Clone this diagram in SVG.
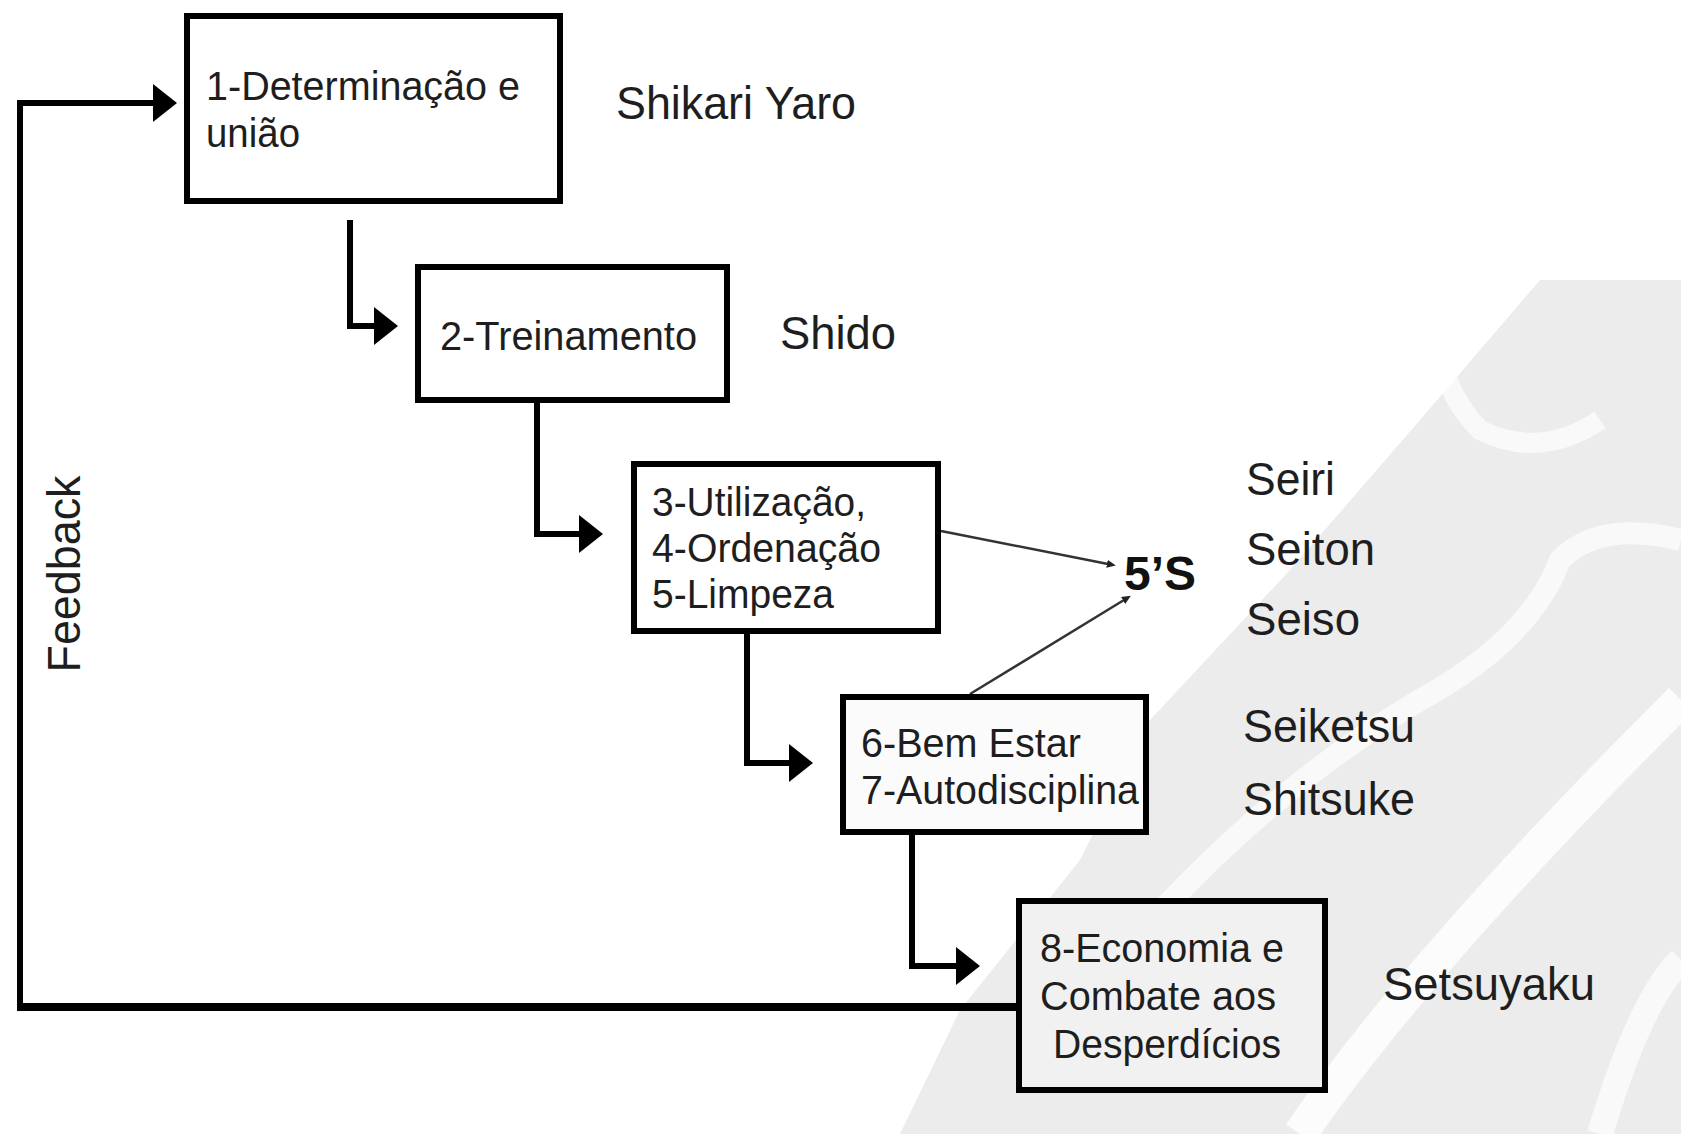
<svg xmlns="http://www.w3.org/2000/svg" width="1681" height="1134" viewBox="0 0 1681 1134">
  <style>
    .box { fill: #ffffff; stroke: #000000; stroke-width: 6; }
    .bt { font-family: "Liberation Sans", Arial, sans-serif; font-size: 41px; fill: #1e1e1e; }
    .lbl { font-family: "Liberation Sans", Arial, sans-serif; font-size: 47px; fill: #1e1e1e; }
    .big { font-family: "Liberation Sans", Arial, sans-serif; font-size: 48px; font-weight: bold; fill: #111111; }
    .conn { fill: none; stroke: #000000; stroke-width: 6; stroke-linejoin: miter; }
    .thin { fill: none; stroke: #333333; stroke-width: 2.5; }
  </style>
  <defs>
    <marker id="ah" markerUnits="userSpaceOnUse" markerWidth="24" markerHeight="38" viewBox="0 0 24 38" refX="10" refY="19" orient="auto">
      <path d="M0,0 L24,19 L0,38 Z" fill="#000000"/>
    </marker>
    <marker id="sm" markerUnits="userSpaceOnUse" markerWidth="9" markerHeight="8" viewBox="0 0 9 8" refX="1" refY="4" orient="auto">
      <path d="M0,0 L9,4 L0,8 Z" fill="#222222"/>
    </marker>
  </defs>

  <rect x="0" y="0" width="1681" height="1134" fill="#ffffff"/>

  <g id="watermark">
    <path d="M1540 280 L1681 280 L1681 1134 L900 1134 L960 1010 L1080 860 L1150 720 L1290 570 L1420 420 Z" fill="#ececec"/>
    <path d="M1300 1134 Q1420 960 1681 700" fill="none" stroke="#ffffff" stroke-width="34" stroke-opacity="0.85"/>
    <path d="M1100 980 Q1250 800 1420 700 Q1530 640 1560 560 Q1600 520 1681 540" fill="none" stroke="#ffffff" stroke-width="22" stroke-opacity="0.7"/>
    <path d="M1440 300 Q1430 380 1480 430 Q1540 460 1600 420" fill="none" stroke="#ffffff" stroke-width="20" stroke-opacity="0.7"/>
    <path d="M1600 1134 Q1640 1000 1681 960" fill="none" stroke="#ffffff" stroke-width="26" stroke-opacity="0.7"/>
    <ellipse cx="1170" cy="575" rx="60" ry="50" fill="#ffffff" opacity="0.9"/>
  </g>

  <g id="connectors">
    <path class="conn" d="M350 220 V326 H384" marker-end="url(#ah)"/>
    <path class="conn" d="M537 402 V534 H589" marker-end="url(#ah)"/>
    <path class="conn" d="M747 633 V763 H799" marker-end="url(#ah)"/>
    <path class="conn" d="M912 834 V966 H966" marker-end="url(#ah)"/>
    <path class="conn" d="M20 1007 V103 H163" marker-end="url(#ah)"/>
    <path class="conn" style="stroke-width:8" d="M1018 1007 H17"/>
    <path class="thin" d="M941 531 L1108 564" marker-end="url(#sm)"/>
    <path class="thin" d="M970 694 L1124 600" marker-end="url(#sm)"/>
  </g>

  <g id="node-1">
    <rect class="box" x="187" y="16" width="373" height="185"/>
    <text class="bt" x="206" y="100" textLength="314" lengthAdjust="spacingAndGlyphs">1-Determinação e</text>
    <text class="bt" x="206" y="147" textLength="94" lengthAdjust="spacingAndGlyphs">união</text>
  </g>
  <g id="node-2">
    <rect class="box" x="418" y="267" width="309" height="133"/>
    <text class="bt" x="440" y="350" textLength="257" lengthAdjust="spacingAndGlyphs">2-Treinamento</text>
  </g>
  <g id="node-3">
    <rect class="box" x="634" y="464" width="304" height="167"/>
    <text class="bt" x="652" y="516" textLength="214" lengthAdjust="spacingAndGlyphs">3-Utilização,</text>
    <text class="bt" x="652" y="562" textLength="229" lengthAdjust="spacingAndGlyphs">4-Ordenação</text>
    <text class="bt" x="652" y="608" textLength="182" lengthAdjust="spacingAndGlyphs">5-Limpeza</text>
  </g>
  <g id="node-4">
    <rect class="box" x="843" y="697" width="303" height="135" style="fill:#fbfbfb"/>
    <text class="bt" x="861" y="757" textLength="220" lengthAdjust="spacingAndGlyphs">6-Bem Estar</text>
    <text class="bt" x="861" y="804" textLength="278" lengthAdjust="spacingAndGlyphs">7-Autodisciplina</text>
  </g>
  <g id="node-5">
    <rect class="box" x="1019" y="901" width="306" height="189" style="fill:#f1f1f1"/>
    <text class="bt" x="1040" y="962" textLength="244" lengthAdjust="spacingAndGlyphs">8-Economia e</text>
    <text class="bt" x="1040" y="1010" textLength="236" lengthAdjust="spacingAndGlyphs">Combate aos</text>
    <text class="bt" x="1053" y="1058" textLength="228" lengthAdjust="spacingAndGlyphs">Desperdícios</text>
  </g>

  <g id="node-5s">
    <text class="big" x="1124" y="590">5’S</text>
  </g>

  <g id="labels">
    <text class="lbl" x="616" y="119" textLength="240" lengthAdjust="spacingAndGlyphs">Shikari Yaro</text>
    <text class="lbl" x="780" y="349" textLength="116" lengthAdjust="spacingAndGlyphs">Shido</text>
    <text class="lbl" x="1246" y="495" textLength="89" lengthAdjust="spacingAndGlyphs">Seiri</text>
    <text class="lbl" x="1246" y="565" textLength="129" lengthAdjust="spacingAndGlyphs">Seiton</text>
    <text class="lbl" x="1246" y="635" textLength="114" lengthAdjust="spacingAndGlyphs">Seiso</text>
    <text class="lbl" x="1243" y="742" textLength="172" lengthAdjust="spacingAndGlyphs">Seiketsu</text>
    <text class="lbl" x="1243" y="815" textLength="172" lengthAdjust="spacingAndGlyphs">Shitsuke</text>
    <text class="lbl" x="1383" y="1000" textLength="212" lengthAdjust="spacingAndGlyphs">Setsuyaku</text>
    <text class="lbl" x="80" y="574" text-anchor="middle" transform="rotate(-90 80 574)" textLength="197" lengthAdjust="spacingAndGlyphs">Feedback</text>
  </g>
</svg>
